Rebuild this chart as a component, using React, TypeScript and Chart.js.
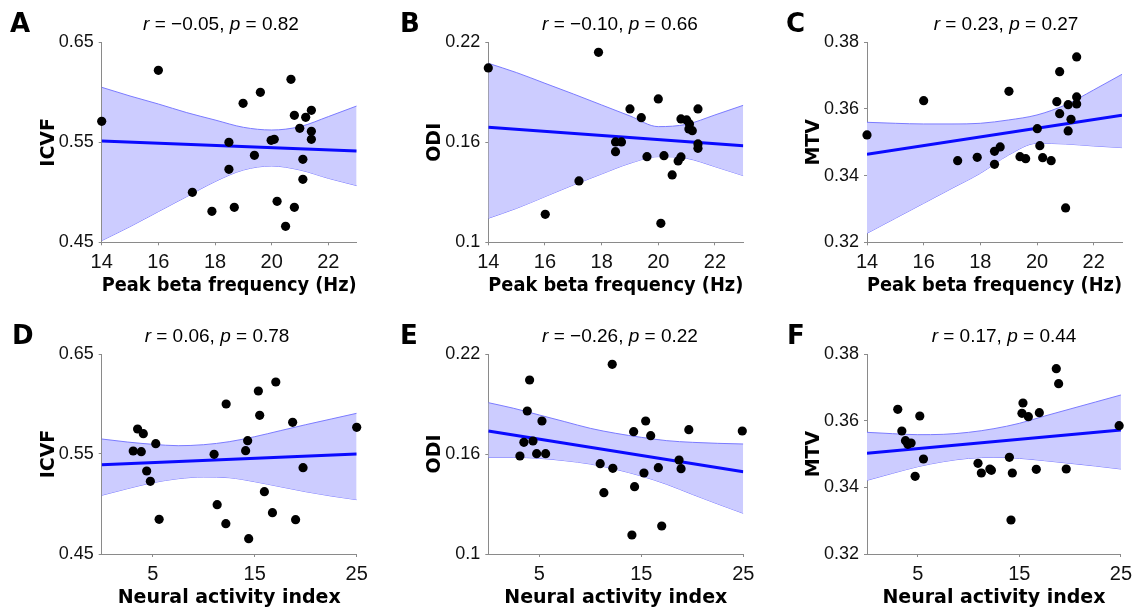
import React, { useEffect, useRef } from "react";
import { Chart, registerables } from "chart.js";

Chart.register(...registerables);

// ---------------- data ----------------
const peakBetaTicks = [14, 16, 18, 20, 22];
const neuralTicks = [5, 15, 25];
const icvfTicks = [0.45, 0.55, 0.65];
const odiTicks = [0.1, 0.16, 0.22];
const mtvTicks = [0.32, 0.34, 0.36, 0.38];

// Panel A: ICVF vs peak beta frequency
const aX = [14.0, 16.0, 17.2, 17.89, 18.49, 18.49, 18.68, 18.99, 19.39, 19.6, 19.98, 20.09, 20.19, 20.49, 20.68, 20.8, 20.8, 20.99, 21.1, 21.1, 21.2, 21.4, 21.4, 21.4];
const aY = [0.571, 0.622, 0.5, 0.481, 0.55, 0.523, 0.485, 0.589, 0.537, 0.6, 0.552, 0.553, 0.491, 0.466, 0.613, 0.577, 0.485, 0.564, 0.533, 0.513, 0.575, 0.582, 0.561, 0.553];
// Panel B: ODI vs peak beta frequency
const bX = [14.0, 16.01, 17.2, 17.89, 18.49, 18.49, 18.7, 19.0, 19.4, 19.6, 20.0, 20.09, 20.2, 20.49, 20.7, 20.8, 20.8, 21.0, 21.1, 21.08, 21.2, 21.4, 21.4, 21.4];
const bY = [0.2046, 0.1168, 0.1368, 0.214, 0.1602, 0.1544, 0.1602, 0.18, 0.1748, 0.1514, 0.186, 0.1114, 0.152, 0.1404, 0.1488, 0.1512, 0.174, 0.1734, 0.171, 0.168, 0.167, 0.18, 0.159, 0.1564];
// Panel C: MTV vs peak beta frequency
const cX = [14.0, 16.0, 17.2, 17.89, 18.5, 18.5, 18.7, 19.01, 19.4, 19.6, 20.01, 20.1, 20.2, 20.5, 20.7, 20.8, 20.8, 21.01, 21.1, 21.1, 21.2, 21.4, 21.4, 21.4];
const cY = [0.3522, 0.3625, 0.3445, 0.3455, 0.3473, 0.3434, 0.3486, 0.3653, 0.3457, 0.3451, 0.3541, 0.349, 0.3454, 0.3445, 0.3622, 0.3712, 0.3586, 0.3303, 0.3613, 0.3534, 0.3569, 0.3756, 0.3636, 0.3615];
// Panel D: ICVF vs neural activity index
const dX = [3.09, 3.52, 3.88, 4.08, 4.41, 4.77, 5.3, 5.63, 11.02, 11.32, 12.2, 12.17, 14.11, 14.31, 14.41, 15.36, 15.49, 15.95, 16.74, 17.07, 18.72, 19.01, 19.74, 25.0];
const dY = [0.553, 0.575, 0.5523, 0.5703, 0.533, 0.5227, 0.5603, 0.4847, 0.5497, 0.4993, 0.6, 0.4803, 0.5533, 0.5633, 0.4653, 0.613, 0.5887, 0.5123, 0.4913, 0.622, 0.5817, 0.4843, 0.5363, 0.5767];
// Panel E: ODI vs neural activity index
const eX = [3.1, 3.49, 3.82, 4.05, 4.38, 4.74, 5.26, 5.62, 10.97, 11.33, 12.15, 12.21, 14.08, 14.25, 14.34, 15.26, 15.43, 15.92, 16.67, 17.0, 18.7, 18.9, 19.66, 24.9];
const eY = [0.1588, 0.167, 0.1858, 0.2044, 0.1678, 0.1602, 0.1798, 0.1602, 0.1542, 0.1368, 0.2138, 0.1514, 0.1114, 0.1734, 0.1404, 0.1486, 0.1798, 0.171, 0.1518, 0.1168, 0.1564, 0.1512, 0.1746, 0.1738];
// Panel F: MTV vs neural activity index
const fX = [3.03, 3.43, 3.79, 4.02, 4.34, 4.74, 5.2, 5.56, 10.93, 11.26, 12.1, 12.25, 14.02, 14.18, 14.31, 15.26, 15.36, 15.89, 16.67, 16.97, 18.64, 18.87, 19.62, 24.83];
const fY = [0.3634, 0.3569, 0.354, 0.3529, 0.3533, 0.3433, 0.3614, 0.3485, 0.3472, 0.3443, 0.3455, 0.3451, 0.349, 0.3302, 0.3443, 0.3622, 0.3653, 0.3612, 0.3454, 0.3624, 0.3756, 0.3711, 0.3455, 0.3585];

// regression lines (end points)
const betaFitX = [14, 23];
const neuralFitX = [0, 25];
const aFitY = [0.5513, 0.5413];
const bFitY = [0.169, 0.158];
const cFitY = [0.3464, 0.3581];
const dFitY = [0.5393, 0.55];
const eFitY = [0.1738, 0.1494];
const fFitY = [0.3502, 0.3572];

// confidence bands (read at these x positions)
const betaBandX = [14, 15, 16, 17, 18, 19, 20, 21, 22, 23];
const aUpper = [0.605, 0.5963, 0.5883, 0.5797, 0.5723, 0.565, 0.5623, 0.5657, 0.5757, 0.5863];
const aLower = [0.4517, 0.4657, 0.4807, 0.4957, 0.5107, 0.5223, 0.5263, 0.5223, 0.514, 0.5067];
const bUpper = [0.2074, 0.2018, 0.1954, 0.189, 0.1824, 0.1758, 0.1694, 0.1708, 0.1764, 0.1822];
const bLower = [0.1144, 0.1204, 0.1274, 0.1344, 0.141, 0.1474, 0.1514, 0.1504, 0.1454, 0.14];
const cUpper = [0.356, 0.3557, 0.3555, 0.3555, 0.3557, 0.3567, 0.3582, 0.3612, 0.3657, 0.3704];
const cLower = [0.3227, 0.3272, 0.3317, 0.3362, 0.3407, 0.3462, 0.3497, 0.3495, 0.3489, 0.3484];

const neuralBandX = [0, 2.5, 5, 7.5, 10, 12.5, 15, 17.5, 20, 22.5, 25];
const dUpper = [0.565, 0.562, 0.5597, 0.5583, 0.5593, 0.5623, 0.5673, 0.5733, 0.5793, 0.585, 0.5907];
const dLower = [0.5087, 0.5153, 0.5213, 0.5253, 0.527, 0.5263, 0.5223, 0.5173, 0.5123, 0.508, 0.5043];
const eUpper = [0.1908, 0.1874, 0.1834, 0.1794, 0.1754, 0.1724, 0.17, 0.168, 0.167, 0.1664, 0.166];
const eLower = [0.158, 0.158, 0.1574, 0.156, 0.154, 0.1508, 0.1468, 0.1418, 0.1358, 0.13, 0.1244];
const fUpper = [0.3565, 0.3561, 0.3558, 0.3559, 0.3565, 0.3576, 0.3592, 0.3614, 0.3635, 0.3656, 0.3677];
const fLower = [0.3421, 0.3442, 0.3462, 0.3477, 0.3487, 0.349, 0.3487, 0.348, 0.3472, 0.3464, 0.3455];

// correlation statistics
const panelLetters = ["A", "B", "C", "D", "E", "F"];
const rValues = [-0.05, -0.1, 0.23, 0.06, -0.26, 0.17];
const pValues = [0.82, 0.66, 0.27, 0.78, 0.22, 0.44];
const yLabels = ["ICVF", "ODI", "MTV", "ICVF", "ODI", "MTV"];
const xLabels = ["Peak beta frequency (Hz)", "Neural activity index"];

// ---------------- layout / style ----------------
const SANS = '"Liberation Sans", Arial, Helvetica, sans-serif';
const WIDE = '"DejaVu Sans", "Liberation Sans", Arial, sans-serif';
const AXIS_GREY = "#8a8a8a";
const PLOT_W = 255;
const PLOT_H = 200;
const colBounds = [[0, 380], [380, 770], [770, 1137]];
const rowBounds = [[0, 305], [305, 610]];
const plotLefts = [101.7, 488.3, 867];
const plotTops = [42.3, 354];
const titleCentres = [221, 620, 1006, 217, 620, 1004];
const letterXs = [10, 400, 786, 12, 400, 787];
const Y_TITLE_GAP = 53; // distance of y title centre from the y axis
const X_TITLE_GAP = 44; // distance of x title centre below the x axis

const fmt = (v: number) => (v < 0 ? "\u2212" : "") + Math.abs(v).toFixed(2);
const pts = (xs: number[], ys: number[]) => xs.map((x, i) => ({ x, y: ys[i] }));

const panelTextPlugin = {
  id: "panelText",
  afterDraw(chart: any, _args: any, o: any) {
    const ctx = chart.ctx;
    ctx.save();
    ctx.fillStyle = "#000";
    ctx.textBaseline = "alphabetic";
    ctx.textAlign = "left";
    ctx.font = `bold 26px ${WIDE}`;
    ctx.fillText(o.letter, o.letterX, o.letterY);
    const parts = [
      { t: "r", it: true },
      { t: " = " + o.r + ", ", it: false },
      { t: "p", it: true },
      { t: " = " + o.p, it: false },
    ];
    const font = (it: boolean) => `${it ? "italic " : ""}19px ${SANS}`;
    let total = 0;
    for (const p of parts) {
      ctx.font = font(p.it);
      total += ctx.measureText(p.t).width;
    }
    let x = o.titleX - total / 2;
    for (const p of parts) {
      ctx.font = font(p.it);
      ctx.fillText(p.t, x, o.titleY);
      x += ctx.measureText(p.t).width;
    }
    ctx.restore();
  },
};

type PanelSpec = {
  idx: number;
  xs: number[];
  ys: number[];
  fitX: number[];
  fitY: number[];
  bandX: number[];
  upper: number[];
  lower: number[];
  xTicks: number[];
  yTicks: number[];
};

const specs: PanelSpec[] = [
  { idx: 0, xs: aX, ys: aY, fitX: betaFitX, fitY: aFitY, bandX: betaBandX, upper: aUpper, lower: aLower, xTicks: peakBetaTicks, yTicks: icvfTicks },
  { idx: 1, xs: bX, ys: bY, fitX: betaFitX, fitY: bFitY, bandX: betaBandX, upper: bUpper, lower: bLower, xTicks: peakBetaTicks, yTicks: odiTicks },
  { idx: 2, xs: cX, ys: cY, fitX: betaFitX, fitY: cFitY, bandX: betaBandX, upper: cUpper, lower: cLower, xTicks: peakBetaTicks, yTicks: mtvTicks },
  { idx: 3, xs: dX, ys: dY, fitX: neuralFitX, fitY: dFitY, bandX: neuralBandX, upper: dUpper, lower: dLower, xTicks: neuralTicks, yTicks: icvfTicks },
  { idx: 4, xs: eX, ys: eY, fitX: neuralFitX, fitY: eFitY, bandX: neuralBandX, upper: eUpper, lower: eLower, xTicks: neuralTicks, yTicks: odiTicks },
  { idx: 5, xs: fX, ys: fY, fitX: neuralFitX, fitY: fFitY, bandX: neuralBandX, upper: fUpper, lower: fLower, xTicks: neuralTicks, yTicks: mtvTicks },
];

function Panel({ s }: { s: PanelSpec }) {
  const ref = useRef<HTMLCanvasElement>(null);
  const col = s.idx % 3;
  const row = Math.floor(s.idx / 3);
  const [cL, cR] = colBounds[col];
  const [rT, rB] = rowBounds[row];
  const w = cR - cL;
  const h = rB - rT;

  useEffect(() => {
    const plotLeft = plotLefts[col];
    const plotTop = plotTops[row];
    const L = plotLeft - cL;
    const T = plotTop - rT;
    const R = cR - (plotLeft + PLOT_W);
    const B = rB - (plotTop + PLOT_H);
    const xMin = s.xTicks === peakBetaTicks ? 14 : 0;
    const xMax = s.xTicks === peakBetaTicks ? 23 : 25;
    const yMin = s.yTicks[0];
    const yMax = s.yTicks[s.yTicks.length - 1];

    const chart = new Chart(ref.current as HTMLCanvasElement, {
      type: "line",
      data: {
        datasets: [
          {
            data: pts(s.xs, s.ys),
            showLine: false,
            pointRadius: 4.6,
            pointBackgroundColor: "#000",
            pointBorderWidth: 0,
            clip: false,
            order: 0,
          } as any,
          {
            data: pts(s.fitX, s.fitY),
            borderColor: "#0a0aff",
            borderWidth: 3,
            pointRadius: 0,
            fill: false,
            order: 1,
          },
          {
            data: pts(s.bandX, s.upper),
            borderColor: "#7b7bff",
            borderWidth: 1,
            pointRadius: 0,
            cubicInterpolationMode: "monotone",
            fill: "+1",
            backgroundColor: "#ccccff",
            order: 2,
          },
          {
            data: pts(s.bandX, s.lower),
            borderColor: "#7b7bff",
            borderWidth: 1,
            pointRadius: 0,
            cubicInterpolationMode: "monotone",
            fill: false,
            order: 3,
          },
        ],
      },
      options: {
        animation: false,
        responsive: false,
        maintainAspectRatio: false,
        devicePixelRatio: 1,
        events: [],
        layout: { padding: { left: 0, top: T, right: R, bottom: 0 } },
        plugins: {
          legend: { display: false },
          tooltip: { enabled: false },
          panelText: {
            letter: panelLetters[s.idx],
            letterX: letterXs[s.idx] - cL,
            letterY: plotTop - 10.5 - rT,
            titleX: titleCentres[s.idx] - cL,
            titleY: plotTop - 12 - rT,
            r: fmt(rValues[s.idx]),
            p: fmt(pValues[s.idx]),
          },
        } as any,
        scales: {
          x: {
            type: "linear",
            min: xMin,
            max: xMax,
            afterBuildTicks: (sc: any) => {
              sc.ticks = s.xTicks.map((v) => ({ value: v }));
            },
            afterFit: (sc: any) => {
              sc.height = B;
            },
            grid: { drawOnChartArea: false, drawTicks: true, tickLength: 3, color: AXIS_GREY },
            border: { display: true, color: AXIS_GREY, width: 1 },
            ticks: {
              color: "#111",
              font: { family: SANS, size: 20 },
              padding: 5,
              maxRotation: 0,
              autoSkip: false,
              callback: (v: any) => String(v),
            },
            title: {
              display: true,
              text: xLabels[row],
              color: "#000",
              font: { family: WIDE, size: 19, weight: "bold" },
              padding: { top: 0, bottom: B - X_TITLE_GAP - 11.4 },
            },
          },
          y: {
            type: "linear",
            min: yMin,
            max: yMax,
            afterBuildTicks: (sc: any) => {
              sc.ticks = s.yTicks.map((v) => ({ value: v }));
            },
            afterFit: (sc: any) => {
              sc.width = L;
            },
            grid: { drawOnChartArea: false, drawTicks: true, tickLength: 3, color: AXIS_GREY },
            border: { display: true, color: AXIS_GREY, width: 1 },
            ticks: {
              color: "#111",
              font: { family: SANS, size: 18 },
              padding: 5,
              autoSkip: false,
              callback: (v: any) => String(v),
            },
            title: {
              display: true,
              text: yLabels[s.idx],
              color: "#000",
              font: { family: WIDE, size: 19, weight: "bold" },
              padding: { top: L - Y_TITLE_GAP - 11.4, bottom: 0 },
            },
          },
        },
      },
      plugins: [panelTextPlugin as any],
    });
    return () => chart.destroy();
  }, []);

  return (
    <canvas
      ref={ref}
      width={w}
      height={h}
      style={{ position: "absolute", left: cL, top: rT, width: w, height: h }}
    />
  );
}

export default function App() {
  return (
    <div
      style={{
        position: "absolute",
        left: 0,
        top: 0,
        width: 1137,
        height: 610,
        background: "#fff",
        overflow: "hidden",
      }}
    >
      {specs.map((s) => (
        <Panel key={s.idx} s={s} />
      ))}
    </div>
  );
}
